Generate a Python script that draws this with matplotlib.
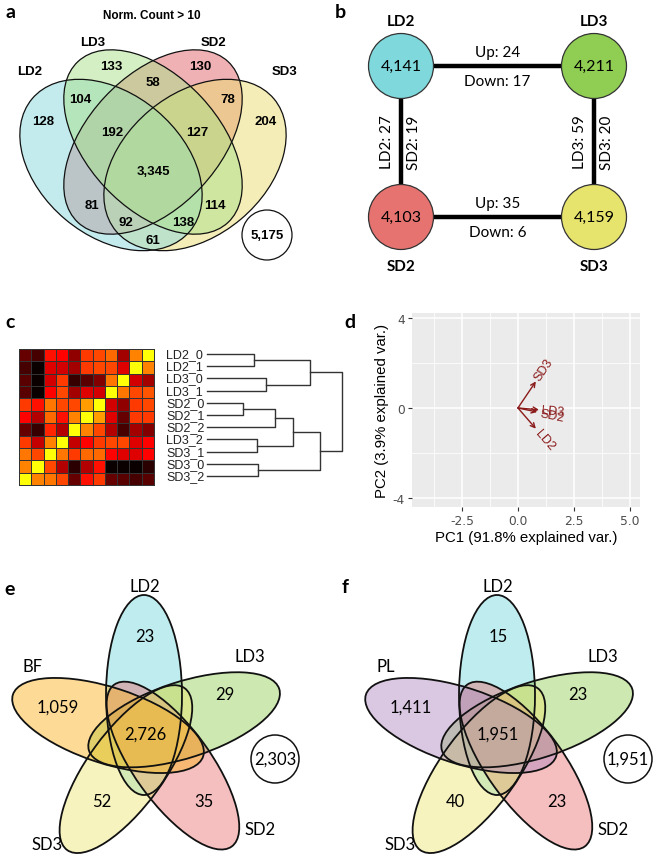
import numpy as np
import matplotlib
matplotlib.use("Agg")
import matplotlib.pyplot as plt
from matplotlib.patches import Ellipse, Circle

plt.rcParams["axes.unicode_minus"] = False

# ---------------- data ----------------
# a: 4-set venn (membership flags in order LD2, LD3, SD2, SD3)
venn4_names = ["LD2", "LD3", "SD2", "SD3"]
venn4_keys = ["1000", "0100", "0010", "0001", "1100", "0110", "0011", "1110",
              "0111", "1111", "1010", "0101", "1011", "1101", "1001"]
venn4_counts = [128, 133, 130, 204, 104, 58, 78, 192, 127, 3345, 81, 114, 92, 138, 61]
venn4_outside = 5175

# b: expressed genes per group and pairwise DE counts
net_groups = ["LD2", "LD3", "SD2", "SD3"]
net_totals = [4141, 4211, 4103, 4159]
net_updown = {("LD2", "LD3"): (24, 17), ("SD2", "SD3"): (35, 6)}
net_side = {("LD2", "SD2"): (27, 19), ("LD3", "SD3"): (59, 20)}

# c: sample correlation heatmap (rows top->bottom, columns reversed) + clustering
samples = ["LD2_0", "LD2_1", "LD3_0", "LD3_1", "SD2_0", "SD2_1", "SD2_2",
           "LD3_2", "SD3_1", "SD3_0", "SD3_2"]
corr = np.array([
    [0.14, 0.09, 0.39, 0.37, 0.20, 0.45, 0.47, 0.52, 0.23, 0.56, 0.75],
    [0.09, 0.00, 0.32, 0.30, 0.23, 0.45, 0.47, 0.47, 0.32, 0.75, 0.56],
    [0.12, 0.00, 0.30, 0.45, 0.07, 0.12, 0.18, 0.54, 0.75, 0.30, 0.23],
    [0.12, 0.00, 0.37, 0.47, 0.23, 0.32, 0.30, 0.75, 0.54, 0.47, 0.49],
    [0.45, 0.39, 0.54, 0.47, 0.47, 0.60, 0.75, 0.30, 0.20, 0.45, 0.47],
    [0.37, 0.25, 0.52, 0.39, 0.56, 0.75, 0.60, 0.32, 0.14, 0.45, 0.45],
    [0.14, 0.07, 0.42, 0.25, 0.75, 0.56, 0.47, 0.25, 0.09, 0.23, 0.18],
    [0.45, 0.28, 0.56, 0.75, 0.28, 0.37, 0.45, 0.47, 0.47, 0.32, 0.37],
    [0.54, 0.47, 0.75, 0.54, 0.45, 0.52, 0.52, 0.37, 0.32, 0.32, 0.37],
    [0.56, 0.75, 0.47, 0.25, 0.05, 0.25, 0.39, 0.00, 0.00, 0.00, 0.05],
    [0.75, 0.56, 0.54, 0.47, 0.14, 0.39, 0.45, 0.14, 0.12, 0.09, 0.12],
])
# merges: (child, child, height); new clusters numbered from 11
merges = [(4, 5, 0.27), (0, 1, 0.35), (7, 8, 0.37), (9, 10, 0.38), (2, 3, 0.44),
          (11, 6, 0.50), (16, 13, 0.64), (12, 15, 0.76), (17, 14, 0.84), (18, 19, 1.00)]

# d: PCA biplot loadings
pca_vars = ["LD2", "LD3", "SD2", "SD3"]
pc1_load = [0.80, 0.94, 0.86, 0.80]
pc2_load = [-0.92, -0.08, -0.18, 1.18]
pc1_pct = 91.8
pc2_pct = 3.9

# e / f: 5-set venns
e_names = ["LD2", "LD3", "SD2", "SD3", "BF"]
e_unique = [23, 29, 35, 52, 1059]
e_core = 2726
e_outside = 2303

f_names = ["LD2", "LD3", "SD2", "SD3", "PL"]
f_unique = [15, 23, 23, 40, 1411]
f_core = 1951
f_outside = 1951

# ---------------- figure ----------------
fig = plt.figure(figsize=(6.6, 8.62), dpi=100)
ax = fig.add_axes([0, 0, 1, 1])
ax.set_xlim(0, 660)
ax.set_ylim(862, 0)
ax.axis("off")

ARIAL = ["Liberation Sans", "DejaVu Sans"]
CAL = ["Lato", "DejaVu Sans"]

for letter, (x, y) in zip("abcdef", [(10, 13), (340, 13), (10, 323), (350, 323), (10, 590), (345, 588)]):
    ax.text(x, y, letter, fontsize=14, fontweight="bold", family=CAL, ha="center", va="center")

# ---- a ----
a_colors = ["#89d9dd", "#a9e189", "#e16569", "#eddd71"]
a_shapes = [((111, 166), 103, 71, 40), ((153, 143), 110, 66, 47),
            ((153, 143), 110, 66, -47), ((195, 166), 103, 71, -40)]
for i in [2, 3, 0, 1]:  # SD2, SD3, LD2, LD3 stacking
    c, sa, sb, ang = a_shapes[i]
    ax.add_patch(Ellipse(c, 2 * sa, 2 * sb, angle=ang, fc=a_colors[i], alpha=0.5, ec="none"))
for (c, sa, sb, ang) in a_shapes:
    ax.add_patch(Ellipse(c, 2 * sa, 2 * sb, angle=ang, fc="none", ec="#111111", lw=0.9))

a_label_pos = {"1000": (43, 122), "0100": (111, 67), "0010": (200, 67), "0001": (266, 122),
               "1100": (80, 100), "0110": (153, 83), "0011": (228, 100), "1110": (112, 133),
               "0111": (197, 133), "1111": (153, 172), "1010": (92, 206), "0101": (215, 206),
               "1011": (126, 223), "1101": (183, 223), "1001": (153, 241)}
for key, n in zip(venn4_keys, venn4_counts):
    x, y = a_label_pos[key]
    ax.text(x, y, f"{n:,}", fontsize=9.5, fontweight="bold", family=ARIAL, ha="center", va="center")
for name, (x, y) in zip(venn4_names, [(30, 72), (93, 43), (213, 43), (285, 72)]):
    ax.text(x, y, name, fontsize=9.5, fontweight="bold", family=ARIAL, ha="center", va="center")
ax.text(152, 16, "Norm. Count > 10", fontsize=8.5, fontweight="bold", family=ARIAL, ha="center", va="center")
ax.add_patch(Circle((267, 236), 25, fc="white", ec="#111111", lw=0.9))
ax.text(267, 236, f"{venn4_outside:,}", fontsize=9.5, fontweight="bold", family=ARIAL, ha="center", va="center")

# ---- b ----
b_colors = ["#7fd8dc", "#8fce52", "#e77370", "#e6e46c"]
b_xy = {"LD2": (401, 67), "LD3": (594, 67), "SD2": (401, 218), "SD3": (594, 218)}
for (g1, g2), (up, down) in net_updown.items():
    (x1, y1), (x2, y2) = b_xy[g1], b_xy[g2]
    ax.plot([x1, x2], [y1, y2], color="black", lw=3.2, solid_capstyle="butt", zorder=2)
    ax.text((x1 + x2) / 2, y1 - 14, f"Up: {up}", fontsize=11, family=CAL, ha="center", va="center")
    ax.text((x1 + x2) / 2, y1 + 15, f"Down: {down}", fontsize=11, family=CAL, ha="center", va="center")
for (g1, g2), (n1, n2) in net_side.items():
    (x1, y1), (x2, y2) = b_xy[g1], b_xy[g2]
    ax.plot([x1, x2], [y1, y2], color="black", lw=3.2, solid_capstyle="butt", zorder=2)
    ym = (y1 + y2) / 2
    ax.text(x1 - 14, ym, f"{g1}: {n1}", fontsize=11, family=CAL, ha="center", va="center", rotation=90)
    ax.text(x1 + 13, ym, f"{g2}: {n2}", fontsize=11, family=CAL, ha="center", va="center", rotation=90)
for g, tot, col in zip(net_groups, net_totals, b_colors):
    x, y = b_xy[g]
    ax.add_patch(Circle((x, y), 32.5, fc=col, ec="#333333", lw=0.9, zorder=3))
    ax.text(x, y, f"{tot:,}", fontsize=11.5, family=CAL, ha="center", va="center", zorder=4)
    ly = y - 45 if y < 150 else y + 49
    ax.text(x, ly, g, fontsize=11, fontweight="bold", family=CAL, ha="center", va="center")

# ---- c ----
xe = np.linspace(19, 154, corr.shape[1] + 1)
ye = np.linspace(350, 486, corr.shape[0] + 1)
ax.pcolormesh(xe, ye, corr, cmap="hot", vmin=0, vmax=1, edgecolors="#333333", linewidth=0.6)
leaf_y = np.linspace(355, 477, len(samples))
for s, y in zip(samples, leaf_y):
    ax.text(166, y, s, fontsize=9, family=ARIAL, color="#222222", ha="left", va="center")
x0, xscale = 207, 135
pos = {i: (x0, y) for i, y in enumerate(leaf_y)}
for k, (c1, c2, h) in enumerate(merges):
    (xa, ya), (xb, yb) = pos[c1], pos[c2]
    xh = x0 + h * xscale
    ax.plot([xa, xh, xh, xb], [ya, ya, yb, yb], color="#333333", lw=1.0)
    pos[len(samples) + k] = (xh, (ya + yb) / 2)

# ---- d ----
axd = fig.add_axes([412 / 660, 1 - 508 / 862, 228 / 660, 194 / 862])
axd.set_facecolor("#ebebeb")
axd.set_xlim(-4.73, 5.45)
axd.set_ylim(-4.4, 4.22)
axd.set_xticks([-2.5, 0, 2.5, 5.0])
axd.set_xticklabels(["-2.5", "0.0", "2.5", "5.0"])
axd.set_yticks([-4, 0, 4])
axd.set_yticklabels(["-4", "0", "4"])
axd.set_xticks([-3.75, -1.25, 1.25, 3.75], minor=True)
axd.set_yticks([-2, 2], minor=True)
axd.grid(which="major", color="white", lw=1.1)
axd.grid(which="minor", color="white", lw=0.55)
axd.set_axisbelow(True)
for sp in axd.spines.values():
    sp.set_visible(False)
axd.tick_params(which="major", length=3, width=0.8, color="#333333", labelsize=8.8,
                labelcolor="#4d4d4d", pad=2)
axd.tick_params(which="minor", length=0)
axd.set_xlabel(f"PC1 ({pc1_pct}% explained var.)", fontsize=10.8, family=ARIAL, labelpad=2)
axd.set_ylabel(f"PC2 ({pc2_pct}% explained var.)", fontsize=10.8, family=ARIAL, labelpad=3)
for name, px, py in zip(pca_vars, pc1_load, pc2_load):
    axd.annotate("", xy=(px, py), xytext=(0, 0),
                 arrowprops=dict(arrowstyle="->", color="#8b1a1a", lw=1.0, mutation_scale=8,
                                 shrinkA=0, shrinkB=0))
    ang = np.degrees(np.arctan2(py, px))
    r = np.hypot(px, py)
    axd.text(px + 0.12 * px / r, py + 0.12 * py / r, name, rotation=ang, rotation_mode="anchor",
             ha="left", va="center", fontsize=9, family=ARIAL, color="#8b1a1a")


# ---- e / f ----
def venn5(cx, cy, names, unique, core, outside, colors):
    shapes = []
    for k in range(5):
        phi = np.radians(72 * k)
        u = np.array([np.sin(phi), -np.cos(phi)])
        l = np.array([-np.cos(phi), -np.sin(phi)])
        shapes.append((np.array([cx, cy]) + 40 * u + 3 * l, 72 * k - 90))
    for (c, ang), col in zip(shapes, colors):
        ax.add_patch(Ellipse(c, 200, 76, angle=ang, fc=col, alpha=0.45, ec="none"))
    for c, ang in shapes:
        ax.add_patch(Ellipse(c, 200, 76, angle=ang, fc="none", ec="#111111", lw=1.3))
    name_off = [(-2, -149), (103, -79), (113, 94), (-100, 109), (-114, -69)]
    uniq_off = [(-2, -99), (78, -41), (57, 66), (-45, 66), (-89, -28)]
    for nm, n, (dx, dy), (ux, uy) in zip(names, unique, name_off, uniq_off):
        ax.text(cx + dx, cy + dy, nm, fontsize=12, family=CAL, ha="center", va="center")
        ax.text(cx + ux, cy + uy, f"{n:,}", fontsize=12, family=CAL, ha="center", va="center")
    ax.text(cx - 2, cy - 1, f"{core:,}", fontsize=12, family=CAL, ha="center", va="center")
    ax.add_patch(Circle((cx + 128, cy + 24), 24, fc="white", ec="#111111", lw=1.1))
    ax.text(cx + 128, cy + 24, f"{outside:,}", fontsize=12, family=CAL, ha="center", va="center")


venn5(147, 736, e_names, e_unique, e_core, e_outside,
      ["#71d9dd", "#91cd51", "#e97171", "#ede571", "#fbb119"])
venn5(500, 736, f_names, f_unique, f_core, f_outside,
      ["#71d9dd", "#91cd51", "#e97171", "#ede571", "#af87c1"])

fig.savefig("out.png", dpi=100)
